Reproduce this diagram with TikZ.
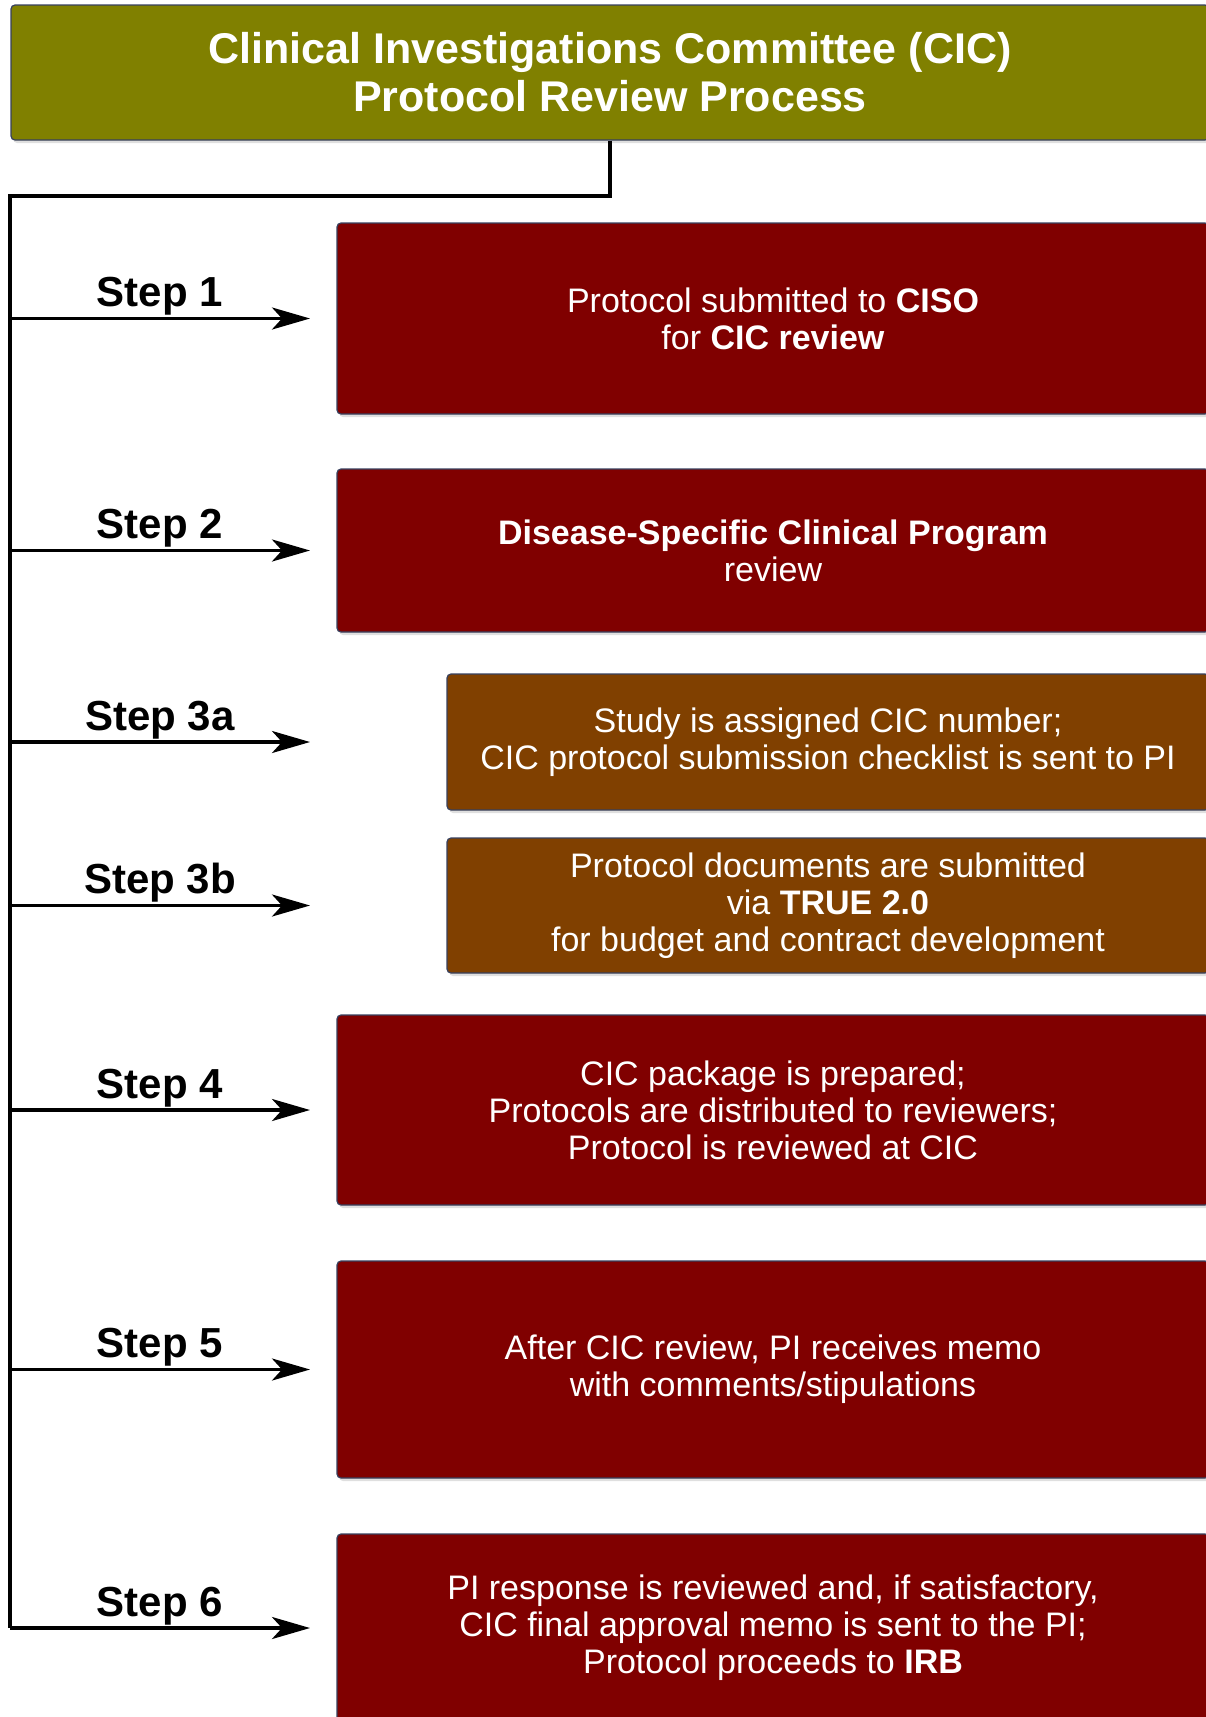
\documentclass[tikz,border=0pt]{standalone}
\usepackage{fontspec}
\setmainfont{Liberation Sans}
\usetikzlibrary{arrows.meta,shadows}
\definecolor{olivehead}{RGB}{128,128,0}
\definecolor{maroonbox}{RGB}{128,0,0}
\definecolor{brownbox}{RGB}{128,64,0}
\definecolor{edgeblue}{RGB}{55,65,95}
\tikzset{
  flowbox/.style={draw=edgeblue, line width=1.2pt, rounded corners=4pt, text=white,
    align=center, inner sep=0pt, font=\fontsize{34}{37}\selectfont,
    drop shadow={shadow xshift=2pt, shadow yshift=-3pt, opacity=0.25}},
  headbox/.style={flowbox, fill=olivehead, font=\fontsize{43}{48}\selectfont\bfseries},
  redbox/.style={flowbox, fill=maroonbox, minimum width=872pt},
  brownbx/.style={flowbox, fill=brownbox, minimum width=762pt},
  trunkline/.style={line width=3.2pt},
  steparrow/.style={line width=3.2pt, -{Stealth[length=38pt,width=22pt,inset=10pt]}},
  steplabel/.style={font=\fontsize{42}{46}\selectfont\bfseries, above=-2pt}
}
\begin{document}
\begin{tikzpicture}[x=1pt,y=-1pt]
        \useasboundingbox (0,0) rectangle (1206,1717);
        \node[headbox, minimum width=1198pt, minimum height=135pt] (title) at (610,72.5)
            {Clinical Investigations Committee (CIC)\\Protocol Review Process};
        \node[redbox, minimum height=191pt] (s1) at (773,318.5)
            {Protocol submitted to \textbf{CISO}\\for \textbf{CIC review}};
        \node[redbox, minimum height=163pt] (s2) at (773,550.5)
            {\textbf{Disease-Specific Clinical Program}\\review};
        \node[brownbx, minimum height=136pt] (s3a) at (828,742)
            {Study is assigned CIC number;\\CIC protocol submission checklist is sent to PI};
        \node[brownbx, minimum height=135pt] (s3b) at (828,905.5)
            {Protocol documents are submitted\\via \textbf{TRUE 2.0}\\for budget and contract development};
        \node[redbox, minimum height=190pt] (s4) at (773,1110)
            {CIC package is prepared;\\Protocols are distributed to reviewers;\\Protocol is reviewed at CIC};
        \node[redbox, minimum height=217pt] (s5) at (773,1369.5)
            {After CIC review, PI receives memo\\with comments/stipulations};
        \node[redbox, minimum height=188pt] (s6) at (773,1628)
            {PI response is reviewed and, if satisfactory,\\CIC final approval memo is sent to the PI;\\Protocol proceeds to \textbf{IRB}};
        \coordinate (trunk) at (10,196);
        \coordinate (tip) at (310,196);
        \draw[trunkline] (title.south) |- (trunk) -- (trunk |- s6.west);
        \draw[steparrow] (trunk |- s1.west) -- (tip |- s1.west) node[midway,steplabel] {Step 1};
        \draw[steparrow] (trunk |- s2.west) -- (tip |- s2.west) node[midway,steplabel] {Step 2};
        \draw[steparrow] (trunk |- s3a.west) -- (tip |- s3a.west) node[midway,steplabel] {Step 3a};
        \draw[steparrow] (trunk |- s3b.west) -- (tip |- s3b.west) node[midway,steplabel] {Step 3b};
        \draw[steparrow] (trunk |- s4.west) -- (tip |- s4.west) node[midway,steplabel] {Step 4};
        \draw[steparrow] (trunk |- s5.west) -- (tip |- s5.west) node[midway,steplabel] {Step 5};
        \draw[steparrow] (trunk |- s6.west) -- (tip |- s6.west) node[midway,steplabel] {Step 6};
    \end{tikzpicture}
\end{document}
